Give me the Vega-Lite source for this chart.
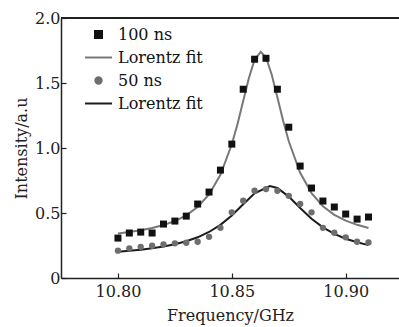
{
  "$schema": "https://vega.github.io/schema/vega-lite/v6.json",
  "width": 338,
  "height": 260,
  "autosize": {"type": "none"},
  "padding": {"left": 61, "top": 18, "right": 0, "bottom": 49},
  "background": "white",
  "config": {
    "view": {"stroke": null},
    "axis": {
      "domainColor": "#222",
      "domainWidth": 1.5,
      "tickColor": "#222",
      "tickWidth": 1.2,
      "tickSize": -5,
      "grid": false,
      "labelFont": "DejaVu Serif",
      "labelFontSize": 16,
      "labelColor": "#222",
      "titleFont": "DejaVu Serif",
      "titleFontSize": 16,
      "titleFontWeight": "normal",
      "titleColor": "#222"
    }
  },
  "data": {
    "values": [
      {"f": 10.800, "v": 0.307, "series": "100 ns"},
      {"f": 10.805, "v": 0.346, "series": "100 ns"},
      {"f": 10.810, "v": 0.353, "series": "100 ns"},
      {"f": 10.815, "v": 0.346, "series": "100 ns"},
      {"f": 10.820, "v": 0.415, "series": "100 ns"},
      {"f": 10.825, "v": 0.438, "series": "100 ns"},
      {"f": 10.830, "v": 0.476, "series": "100 ns"},
      {"f": 10.835, "v": 0.569, "series": "100 ns"},
      {"f": 10.840, "v": 0.661, "series": "100 ns"},
      {"f": 10.845, "v": 0.830, "series": "100 ns"},
      {"f": 10.850, "v": 1.030, "series": "100 ns"},
      {"f": 10.855, "v": 1.452, "series": "100 ns"},
      {"f": 10.860, "v": 1.683, "series": "100 ns"},
      {"f": 10.865, "v": 1.690, "series": "100 ns"},
      {"f": 10.870, "v": 1.452, "series": "100 ns"},
      {"f": 10.875, "v": 1.160, "series": "100 ns"},
      {"f": 10.880, "v": 0.861, "series": "100 ns"},
      {"f": 10.885, "v": 0.692, "series": "100 ns"},
      {"f": 10.890, "v": 0.592, "series": "100 ns"},
      {"f": 10.895, "v": 0.546, "series": "100 ns"},
      {"f": 10.900, "v": 0.492, "series": "100 ns"},
      {"f": 10.905, "v": 0.453, "series": "100 ns"},
      {"f": 10.910, "v": 0.469, "series": "100 ns"},
      {"f": 10.800, "v": 0.210, "series": "50 ns"},
      {"f": 10.805, "v": 0.228, "series": "50 ns"},
      {"f": 10.810, "v": 0.240, "series": "50 ns"},
      {"f": 10.815, "v": 0.248, "series": "50 ns"},
      {"f": 10.820, "v": 0.259, "series": "50 ns"},
      {"f": 10.825, "v": 0.267, "series": "50 ns"},
      {"f": 10.830, "v": 0.271, "series": "50 ns"},
      {"f": 10.835, "v": 0.279, "series": "50 ns"},
      {"f": 10.840, "v": 0.317, "series": "50 ns"},
      {"f": 10.845, "v": 0.386, "series": "50 ns"},
      {"f": 10.850, "v": 0.505, "series": "50 ns"},
      {"f": 10.855, "v": 0.594, "series": "50 ns"},
      {"f": 10.860, "v": 0.671, "series": "50 ns"},
      {"f": 10.865, "v": 0.684, "series": "50 ns"},
      {"f": 10.870, "v": 0.671, "series": "50 ns"},
      {"f": 10.875, "v": 0.632, "series": "50 ns"},
      {"f": 10.880, "v": 0.569, "series": "50 ns"},
      {"f": 10.885, "v": 0.505, "series": "50 ns"},
      {"f": 10.890, "v": 0.386, "series": "50 ns"},
      {"f": 10.895, "v": 0.348, "series": "50 ns"},
      {"f": 10.900, "v": 0.313, "series": "50 ns"},
      {"f": 10.905, "v": 0.279, "series": "50 ns"},
      {"f": 10.910, "v": 0.274, "series": "50 ns"},
      {"f": 10.800, "v": 0.343, "series": "fit100"},
      {"f": 10.805, "v": 0.353, "series": "fit100"},
      {"f": 10.810, "v": 0.367, "series": "fit100"},
      {"f": 10.815, "v": 0.384, "series": "fit100"},
      {"f": 10.820, "v": 0.407, "series": "fit100"},
      {"f": 10.825, "v": 0.438, "series": "fit100"},
      {"f": 10.830, "v": 0.482, "series": "fit100"},
      {"f": 10.835, "v": 0.546, "series": "fit100"},
      {"f": 10.840, "v": 0.643, "series": "fit100"},
      {"f": 10.845, "v": 0.794, "series": "fit100"},
      {"f": 10.850, "v": 1.029, "series": "fit100"},
      {"f": 10.8525, "v": 1.185, "series": "fit100"},
      {"f": 10.855, "v": 1.362, "series": "fit100"},
      {"f": 10.8575, "v": 1.539, "series": "fit100"},
      {"f": 10.860, "v": 1.680, "series": "fit100"},
      {"f": 10.8627, "v": 1.740, "series": "fit100"},
      {"f": 10.865, "v": 1.696, "series": "fit100"},
      {"f": 10.8675, "v": 1.565, "series": "fit100"},
      {"f": 10.870, "v": 1.391, "series": "fit100"},
      {"f": 10.8725, "v": 1.212, "series": "fit100"},
      {"f": 10.875, "v": 1.052, "series": "fit100"},
      {"f": 10.880, "v": 0.809, "series": "fit100"},
      {"f": 10.885, "v": 0.653, "series": "fit100"},
      {"f": 10.890, "v": 0.552, "series": "fit100"},
      {"f": 10.895, "v": 0.486, "series": "fit100"},
      {"f": 10.900, "v": 0.441, "series": "fit100"},
      {"f": 10.905, "v": 0.409, "series": "fit100"},
      {"f": 10.910, "v": 0.385, "series": "fit100"},
      {"f": 10.800, "v": 0.202, "series": "fit50"},
      {"f": 10.805, "v": 0.209, "series": "fit50"},
      {"f": 10.810, "v": 0.218, "series": "fit50"},
      {"f": 10.815, "v": 0.228, "series": "fit50"},
      {"f": 10.820, "v": 0.242, "series": "fit50"},
      {"f": 10.825, "v": 0.260, "series": "fit50"},
      {"f": 10.830, "v": 0.283, "series": "fit50"},
      {"f": 10.835, "v": 0.313, "series": "fit50"},
      {"f": 10.840, "v": 0.354, "series": "fit50"},
      {"f": 10.845, "v": 0.409, "series": "fit50"},
      {"f": 10.850, "v": 0.481, "series": "fit50"},
      {"f": 10.855, "v": 0.567, "series": "fit50"},
      {"f": 10.860, "v": 0.651, "series": "fit50"},
      {"f": 10.8667, "v": 0.707, "series": "fit50"},
      {"f": 10.870, "v": 0.692, "series": "fit50"},
      {"f": 10.875, "v": 0.626, "series": "fit50"},
      {"f": 10.880, "v": 0.538, "series": "fit50"},
      {"f": 10.885, "v": 0.456, "series": "fit50"},
      {"f": 10.890, "v": 0.390, "series": "fit50"},
      {"f": 10.895, "v": 0.340, "series": "fit50"},
      {"f": 10.900, "v": 0.302, "series": "fit50"},
      {"f": 10.905, "v": 0.275, "series": "fit50"},
      {"f": 10.910, "v": 0.253, "series": "fit50"}
    ]
  },
  "layer": [
    {
      "mark": {"type": "rule", "color": "#222", "strokeWidth": 1.5},
      "encoding": {"y": {"datum": 2}}
    },
    {
      "transform": [{"filter": "datum.series == 'fit100' || datum.series == 'fit50'"}],
      "mark": {"type": "line", "strokeWidth": 2},
      "encoding": {
        "x": {"field": "f", "type": "quantitative"},
        "y": {"field": "v", "type": "quantitative"},
        "color": {"field": "series", "type": "nominal",
                  "legend": {
                    "orient": "none", "legendX": 23, "legendY": 2, "title": null, "padding": 0,
                    "symbolSize": 49, "labelFont": "DejaVu Serif", "labelFontSize": 16, "labelColor": "#111",
                    "labelOffset": 5, "rowPadding": -1.9,
                    "labelExpr": "indexof(datum.label,'fit') == 0 ? 'Lorentz fit' : datum.label",
                    "encode": {"symbols": {"update": {
                      "shape": {"signal": "datum.value == '100 ns' ? 'square' : (datum.value == '50 ns' ? 'circle' : 'stroke')"},
                      "size": {"signal": "datum.value == '100 ns' ? 49 : (datum.value == '50 ns' ? 40 : 729)"},
                      "fill": {"signal": "datum.value == '100 ns' ? '#111111' : (datum.value == '50 ns' ? '#6e6e6e' : 'transparent')"},
                      "stroke": {"signal": "datum.value == 'fit100' ? '#787878' : (datum.value == 'fit50' ? '#1c1c1c' : 'transparent')"},
                      "strokeWidth": {"value": 2},
                      "opacity": {"value": 1}
                    }}}
                  }}
      }
    },
    {
      "transform": [{"filter": "datum.series == '100 ns' || datum.series == '50 ns'"}],
      "mark": {"type": "point", "filled": true, "opacity": 1},
      "encoding": {
        "x": {"field": "f", "type": "quantitative",
              "scale": {"domain": [10.775, 10.9234], "nice": false, "zero": false},
              "axis": {"values": [10.80, 10.85, 10.90], "format": ".2f",
                       "labelPadding": 10, "title": "Frequency/GHz", "titleY": 29}},
        "y": {"field": "v", "type": "quantitative",
              "scale": {"domain": [0, 2], "nice": false},
              "axis": {"values": [0, 0.5, 1, 1.5, 2], "labelExpr": "datum.value == 0 ? '0' : format(datum.value, '.1f')",
                       "labelPadding": 6, "title": "Intensity/a.u", "titleX": -32, "titleY": 130}},
        "color": {"field": "series", "type": "nominal",
                  "scale": {"domain": ["100 ns", "fit100", "50 ns", "fit50"], "range": ["#111111", "#787878", "#6e6e6e", "#1c1c1c"]},
                  "legend": {
                    "orient": "none", "legendX": 23, "legendY": 2, "title": null, "padding": 0,
                    "symbolSize": 49, "labelFont": "DejaVu Serif", "labelFontSize": 16, "labelColor": "#111",
                    "labelOffset": 5, "rowPadding": -1.9,
                    "labelExpr": "indexof(datum.label,'fit') == 0 ? 'Lorentz fit' : datum.label",
                    "encode": {"symbols": {"update": {
                      "shape": {"signal": "datum.value == '100 ns' ? 'square' : (datum.value == '50 ns' ? 'circle' : 'stroke')"},
                      "size": {"signal": "datum.value == '100 ns' ? 49 : (datum.value == '50 ns' ? 40 : 729)"},
                      "fill": {"signal": "datum.value == '100 ns' ? '#111111' : (datum.value == '50 ns' ? '#6e6e6e' : 'transparent')"},
                      "stroke": {"signal": "datum.value == 'fit100' ? '#787878' : (datum.value == 'fit50' ? '#1c1c1c' : 'transparent')"},
                      "strokeWidth": {"value": 2},
                      "opacity": {"value": 1}
                    }}}
                  }},
        "shape": {"field": "series", "type": "nominal",
                  "scale": {"domain": ["100 ns", "50 ns"], "range": ["square", "circle"]}, "legend": null},
        "size": {"field": "series", "type": "nominal",
                 "scale": {"domain": ["100 ns", "50 ns"], "range": [49, 40]}, "legend": null}
      }
    }
  ]
}
